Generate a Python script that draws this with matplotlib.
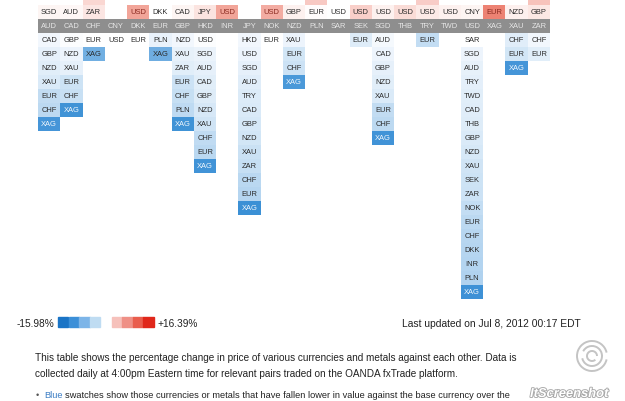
import matplotlib
matplotlib.use("Agg")
import matplotlib.pyplot as plt
import matplotlib.patheffects as pe
from matplotlib.colors import LinearSegmentedColormap
from matplotlib.patches import Rectangle, Arc

plt.rcParams["font.family"] = ["Liberation Sans", "DejaVu Sans"]

# --- data -------------------------------------------------------------------
BASES = ["AUD", "CAD", "CHF", "CNY", "DKK", "EUR", "GBP", "HKD", "INR", "JPY",
         "NOK", "NZD", "PLN", "SAR", "SEK", "SGD", "THB", "TRY", "TWD", "USD",
         "XAG", "XAU", "ZAR"]

# gainers against each base (nearest the header first); "" = cut off at top
UP_CCY = {
    "AUD": ["SGD"], "CAD": ["AUD"], "CHF": ["ZAR", ""], "DKK": ["USD"],
    "EUR": ["DKK"], "GBP": ["CAD"], "HKD": ["JPY"], "INR": ["USD"],
    "NOK": ["USD"], "NZD": ["GBP"], "PLN": ["EUR", ""], "SAR": ["USD"],
    "SEK": ["USD"], "SGD": ["USD"], "THB": ["USD"], "TRY": ["USD", ""],
    "TWD": ["USD"], "USD": ["CNY"], "XAG": ["EUR"], "XAU": ["NZD"],
    "ZAR": ["GBP", ""],
}
UP_PCT = {
    "AUD": [0.3], "CAD": [0.2], "CHF": [1.0, 1.8], "DKK": [4.8],
    "EUR": [0.05], "GBP": [0.3], "HKD": [1.1], "INR": [4.8],
    "NOK": [4.3], "NZD": [0.4], "PLN": [0.1, 2.6], "SAR": [0.05],
    "SEK": [2.3], "SGD": [0.4], "THB": [1.6], "TRY": [0.8, 2.4],
    "TWD": [0.4], "USD": [0.3], "XAG": [8.5], "XAU": [0.5],
    "ZAR": [0.9, 3.0],
}

# losers against each base (nearest the header first)
DOWN_CCY = {
    "AUD": ["CAD", "GBP", "NZD", "XAU", "EUR", "CHF", "XAG"],
    "CAD": ["GBP", "NZD", "XAU", "EUR", "CHF", "XAG"],
    "CHF": ["EUR", "XAG"],
    "CNY": ["USD"],
    "DKK": ["EUR"],
    "EUR": ["PLN", "XAG"],
    "GBP": ["NZD", "XAU", "ZAR", "EUR", "CHF", "PLN", "XAG"],
    "HKD": ["USD", "SGD", "AUD", "CAD", "GBP", "NZD", "XAU", "CHF", "EUR", "XAG"],
    "JPY": ["HKD", "USD", "SGD", "AUD", "TRY", "CAD", "GBP", "NZD", "XAU",
            "ZAR", "CHF", "EUR", "XAG"],
    "NOK": ["EUR"],
    "NZD": ["XAU", "EUR", "CHF", "XAG"],
    "SEK": ["EUR"],
    "SGD": ["AUD", "CAD", "GBP", "NZD", "XAU", "EUR", "CHF", "XAG"],
    "TRY": ["EUR"],
    "USD": ["SAR", "SGD", "AUD", "TRY", "TWD", "CAD", "THB", "GBP", "NZD",
            "XAU", "SEK", "ZAR", "NOK", "EUR", "CHF", "DKK", "INR", "PLN", "XAG"],
    "XAU": ["CHF", "EUR", "XAG"],
    "ZAR": ["CHF", "EUR"],
}
DOWN_PCT = {
    "AUD": [-0.3, -0.8, -1.0, -1.4, -2.6, -2.9, -9.0],
    "CAD": [-0.1, -0.4, -0.8, -2.0, -2.3, -9.3],
    "CHF": [-0.05, -6.8],
    "CNY": [-0.05],
    "DKK": [-0.05],
    "EUR": [-0.6, -6.9],
    "GBP": [-0.3, -0.7, -1.0, -2.1, -2.4, -2.8, -9.3],
    "HKD": [-0.1, -0.5, -0.8, -1.0, -1.2, -1.5, -1.9, -2.7, -3.0, -9.2],
    "JPY": [-0.3, -0.4, -0.8, -1.1, -1.3, -1.4, -1.6, -1.8, -2.2, -2.4,
            -3.0, -3.3, -9.5],
    "NOK": [-0.05],
    "NZD": [-0.4, -1.8, -2.1, -8.7],
    "SEK": [-1.2],
    "SGD": [-0.2, -0.4, -0.8, -1.0, -1.4, -2.6, -2.9, -9.2],
    "TRY": [-2.5],
    "USD": [-0.05, -0.4, -0.7, -0.9, -1.0, -1.1, -1.2, -1.4, -1.6, -1.9,
            -2.0, -2.1, -2.5, -2.9, -3.15, -3.25, -3.4, -3.6, -9.4],
    "XAU": [-1.1, -1.8, -9.0],
    "ZAR": [-0.3, -1.0],
}

PCT_MIN, PCT_MAX = -15.98, 16.39

# --- colours -----------------------------------------------------------------
BLUES = LinearSegmentedColormap.from_list("b", [
    (0, "#ffffff"), (0.02, "#eef5fc"), (0.08, "#dcebf8"), (0.18, "#bcd9f1"),
    (0.25, "#a8ceee"), (0.6, "#3a8fd5"), (1.0, "#1b75c4")])
REDS = LinearSegmentedColormap.from_list("r", [
    (0, "#ffffff"), (0.02, "#fdf2f0"), (0.08, "#fbe0dc"), (0.15, "#f8cbc5"),
    (0.3, "#f2a296"), (0.55, "#ec7d6e"), (1.0, "#e02b1b")])
LEG_BLUE = ["#1a74c6", "#3b8fd8", "#7db5e8", "#bfdcf2"]
LEG_RED = ["#f6c1bb", "#ef9086", "#e95d4d", "#e0271a"]

FW, FH = 625, 401
fig = plt.figure(figsize=(FW / 100, FH / 100), dpi=100)

# table axes: header row 0 sits at 19..33 px, rows are 14 px tall
ax = fig.add_axes([38 / FW, 1 - 301 / FH, 512 / FW, 301 / FH])
ax.set_xlim(0, len(BASES))
ax.set_ylim((301 - 19) / 14, -19 / 14)
ax.axis("off")

CELL_FS = 5.4
ax.bar(range(len(BASES)), 1, bottom=0, width=1, align="edge",
       color="#8e8e8e", linewidth=0)
for i, b in enumerate(BASES):
    ax.text(i + 0.5, 0.52, b, ha="center", va="center", fontsize=CELL_FS,
            color="#e6e6e6")

    for k, (c, v) in enumerate(zip(DOWN_CCY.get(b, []), DOWN_PCT.get(b, []))):
        t = min(-v / -PCT_MIN, 1)
        ax.bar(i, 1, bottom=k + 1, width=1, align="edge", color=BLUES(t),
               linewidth=0)
        ax.text(i + 0.5, k + 1.52, c, ha="center", va="center",
                fontsize=CELL_FS, color="#f2f7fc" if t > 0.45 else "#2b2b2b")

    for k, (c, v) in enumerate(zip(UP_CCY.get(b, []), UP_PCT.get(b, []))):
        t = min(v / PCT_MAX, 1)
        ax.bar(i, 1, bottom=-(k + 1), width=1, align="edge", color=REDS(t),
               linewidth=0)
        if c:
            ax.text(i + 0.5, -k - 0.48, c, ha="center", va="center",
                    fontsize=CELL_FS, color="#8a2a20" if t > 0.25 else "#2b2b2b")


def px(x, y):
    return x / FW, 1 - y / FH


# --- legend ------------------------------------------------------------------
fig.text(*px(17, 324), f"{PCT_MIN:.2f}%", fontsize=7.3, va="center",
         color="#222")
for j, col in enumerate(LEG_BLUE):
    fig.patches.append(Rectangle(px(58 + j * 10.5, 327), 10.5 / FW, 10 / FH,
                                 transform=fig.transFigure, color=col))
for j, col in enumerate(LEG_RED):
    fig.patches.append(Rectangle(px(111.5 + j * 10.5, 327), 10.5 / FW, 10 / FH,
                                 transform=fig.transFigure, color=col))
fig.text(*px(157, 324), f"+{PCT_MAX:.2f}%", fontsize=7.3, va="center",
         color="#222")
fig.text(*px(402, 324), "Last updated on Jul 8, 2012 00:17 EDT", fontsize=7.4,
         va="center", color="#222")

# --- description -------------------------------------------------------------
PFS = 7.2
fig.text(*px(35, 358), "This table shows the percentage change in price of "
         "various currencies and metals against each other. Data is",
         fontsize=PFS, va="center", color="#222")
fig.text(*px(35, 374), "collected daily at 4:00pm Eastern time for relevant "
         "pairs traded on the OANDA fxTrade platform.",
         fontsize=PFS, va="center", color="#222")
BFS = 6.7
fig.text(*px(36, 395), "•", fontsize=BFS, va="center", color="#555")
blue_word = fig.text(*px(44, 395), "Blue", fontsize=BFS, va="center",
                     color="#3b7dc4")
renderer = fig.canvas.get_renderer()
x_end = blue_word.get_window_extent(renderer).x1 / FW
fig.text(x_end + 2.2 / FW, 1 - 395 / FH,
         "swatches show those currencies or metals that have "
         "fallen lower in value against the base currency over the",
         fontsize=BFS, va="center", color="#222")

# --- screenshot watermark ----------------------------------------------------
for r, a0, a1 in [(15, 20, 340), (10, 200, 500), (5, 0, 300)]:
    fig.patches.append(Arc(px(592, 356), 2 * r / FW, 2 * r / FH,
                           theta1=a0, theta2=a1, transform=fig.transFigure,
                           color="#c4c4c4", lw=1.4, zorder=6))
fig.text(*px(569, 394), "ItScreenshot", fontsize=9.3, va="center", ha="center",
         color="white", style="italic", fontweight="bold", zorder=7,
         path_effects=[pe.withStroke(linewidth=1.3, foreground="#a8a8a8")])

fig.savefig("out.png", dpi=100)
